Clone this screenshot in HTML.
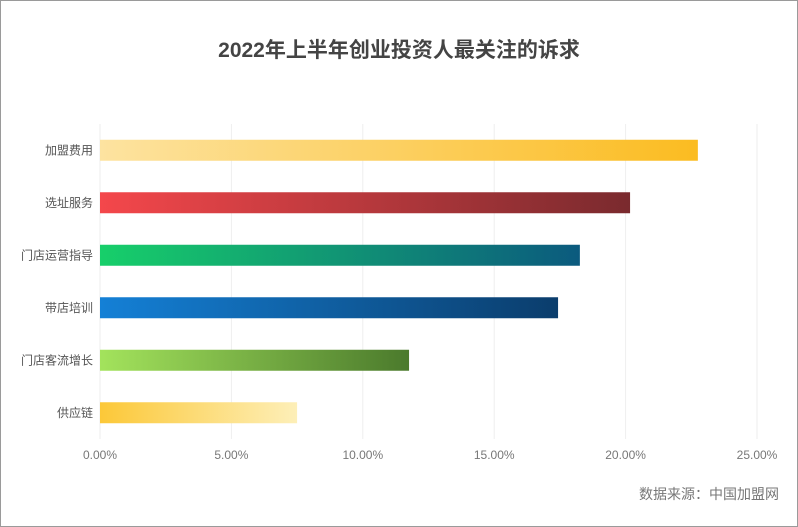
<!DOCTYPE html>
<html><head><meta charset="utf-8"><style>
html,body{margin:0;padding:0;background:#fff}
#wrap{position:relative;width:796px;height:525px;border:1px solid #9a9a9a;font-family:"Liberation Sans","Noto Sans CJK SC",sans-serif;overflow:hidden}
#title{position:absolute;left:0;width:796px;top:33px;text-align:center;font-size:21px;font-weight:bold;color:#444}
#src{position:absolute;right:18px;top:483px;font-size:14px;color:#777}
</style></head><body>
<div id="wrap">
<div id="title">2022年上半年创业投资人最关注的诉求</div>
<svg id="chart" width="796" height="525" style="position:absolute;left:0;top:0"></svg>
<div id="src">数据来源：中国加盟网</div>
</div>
<script>
const categories=["加盟费用","选址服务","门店运营指导","带店培训","门店客流增长","供应链"];
const values=[22.75,20.17,18.26,17.43,11.76,7.5];
const tickValues=[0,5,10,15,20,25];
const tickLabels=["0.00%","5.00%","10.00%","15.00%","20.00%","25.00%"];
const gradStart=["#fde3a0","#f4474b","#17cf6a","#1480d6","#a3e35c","#fcc838"];
const gradEnd=["#fbbc21","#7a2a2e","#0b5a7e","#0b3d6c","#4b7a2c","#fdefb8"];
const NS="http://www.w3.org/2000/svg";
const svg=document.getElementById('chart');
const x0=99,x1=756,yTop=123,band=52.5,barH=21;
const xs=v=>x0+(v-0)/(25-0)*(x1-x0);
const yc=i=>yTop+band*i+band/2;
function mk(t,a){const e=document.createElementNS(NS,t);for(const k in a)e.setAttribute(k,a[k]);svg.appendChild(e);return e;}
const defs=mk('defs',{});
tickValues.forEach((t,i)=>{
  const g=mk('line',{x1:xs(t),x2:xs(t),y1:yTop,y2:yTop+band*6,stroke:'#eeeeee','stroke-width':1});
  
  
  const l=mk('text',{x:xs(t),y:458,'text-anchor':'middle','font-size':12,fill:'#777'});
  l.textContent=tickLabels[i];
  
  
});
categories.forEach((c,i)=>{
  const lg=document.createElementNS(NS,'linearGradient');
  lg.setAttribute('id','g'+i);
  lg.innerHTML='<stop offset="0" stop-color="'+gradStart[i]+'"/><stop offset="1" stop-color="'+gradEnd[i]+'"/>';
  defs.appendChild(lg);
  const r=mk('rect',{x:xs(0),y:yc(i)-barH/2,width:xs(values[i])-xs(0),height:barH,fill:'url(#g'+i+')'});
  
  
  const t=mk('text',{x:92,y:yc(i)+4,'text-anchor':'end','font-size':12,fill:'#555'});
  t.textContent=c;
  
  
});
</script>
</body></html>
